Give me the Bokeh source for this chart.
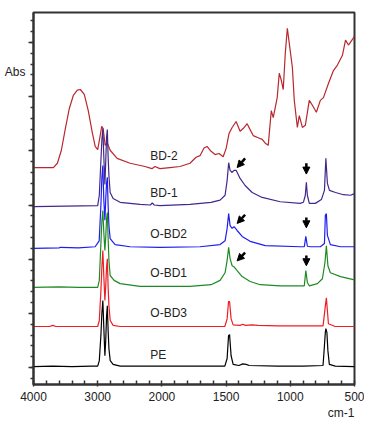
import numpy as np
from bokeh.plotting import figure
from bokeh.models import (Range1d, FixedTicker, Arrow, NormalHead, LinearAxis,
                          ColumnDataSource, Title)
from bokeh.core.properties import value
from bokeh.embed import file_html
from bokeh.resources import INLINE

# ---------------- data (wavenumber in cm-1, stacked absorbance) ----------------
pe_wn = [4000, 3700, 3400, 3100, 3000, 2975, 2950, 2935, 2920, 2905, 2888, 2875, 2862, 2850,
         2838, 2825, 2805, 2760, 2650, 2300, 2000, 1700, 1510, 1492, 1481, 1473, 1461, 1445,
         1400, 1370, 1344, 1320, 1100, 900, 745, 734, 727, 723, 715, 707, 696, 650, 500]
pe_abs = [0.02, 0.03, 0.02, 0.03, 0.03, 0.13, 0.60, 1.00, 1.24, 0.75, 0.22, 0.50, 0.95, 1.14,
          0.70, 0.35, 0.13, 0.06, 0.03, 0.03, 0.03, 0.03, 0.03, 0.17, 0.59, 0.61, 0.22, 0.06,
          0.04, 0.07, 0.06, 0.04, 0.03, 0.03, 0.04, 0.41, 0.66, 0.72, 0.65, 0.31, 0.06, 0.03, 0.02]

obd3_wn = [4000, 3750, 3700, 3650, 3300, 3000, 2975, 2950, 2935, 2920, 2905, 2888, 2875, 2862,
           2850, 2838, 2825, 2805, 2760, 2650, 2000, 1510, 1492, 1481, 1473, 1461, 1445, 1391,
           1370, 1350, 1300, 1250, 1100, 745, 727, 719, 711, 703, 650, 500]
obd3_abs = [0.76, 0.76, 0.78, 0.76, 0.76, 0.76, 0.87, 1.42, 1.85, 2.16, 1.70, 1.24, 1.50, 1.85,
            2.01, 1.50, 1.14, 0.87, 0.78, 0.76, 0.76, 0.76, 0.90, 1.22, 1.22, 0.90, 0.79, 0.78,
            0.80, 0.78, 0.79, 0.78, 0.77, 0.77, 1.14, 1.29, 1.05, 0.81, 0.76, 0.76]

obd1_wn = [4000, 3600, 3300, 3000, 2975, 2950, 2935, 2920, 2905, 2888, 2875, 2862, 2850, 2838,
           2825, 2806, 2744, 2651, 2341, 2031, 1781, 1617, 1547, 1508, 1492, 1480, 1469, 1453,
           1438, 1414, 1375, 1313, 1234, 1078, 922, 891, 879, 867, 852, 789, 750, 730, 719,
           707, 688, 609, 500]
obd1_abs = [1.48, 1.49, 1.48, 1.48, 1.61, 2.30, 2.70, 2.90, 2.50, 2.16, 2.40, 2.75, 2.86, 2.40,
            1.98, 1.70, 1.61, 1.55, 1.50, 1.50, 1.50, 1.53, 1.61, 1.75, 1.98, 2.22, 2.01, 1.88,
            1.86, 1.79, 1.68, 1.59, 1.53, 1.51, 1.51, 1.51, 1.79, 1.57, 1.51, 1.55, 1.64, 1.94,
            2.25, 1.88, 1.75, 1.68, 1.62]

obd2_wn = [4000, 3600, 3580, 3300, 3040, 2977, 2950, 2935, 2920, 2905, 2888, 2875, 2862, 2850,
           2838, 2825, 2806, 2729, 2496, 2031, 1703, 1547, 1508, 1492, 1480, 1469, 1453, 1438,
           1414, 1375, 1313, 1195, 922, 891, 879, 867, 844, 766, 734, 727, 719, 711, 688, 609, 500]
obd2_abs = [2.20, 2.21, 2.22, 2.21, 2.23, 2.34, 3.00, 3.50, 3.73, 3.10, 2.72, 3.10, 3.40, 3.51,
            3.00, 2.62, 2.38, 2.27, 2.23, 2.22, 2.23, 2.27, 2.34, 2.57, 2.84, 2.62, 2.57, 2.60,
            2.53, 2.42, 2.33, 2.25, 2.23, 2.23, 2.42, 2.24, 2.23, 2.23, 2.29, 2.81, 2.84, 2.44,
            2.27, 2.23, 2.23]

bd1_wn = [4000, 3500, 3000, 2975, 2950, 2935, 2920, 2905, 2888, 2875, 2862, 2850, 2838, 2825,
          2806, 2760, 2651, 2341, 2180, 2150, 2120, 2031, 1781, 1617, 1547, 1508, 1492, 1480,
          1469, 1453, 1438, 1422, 1391, 1352, 1297, 1219, 1078, 922, 898, 883, 875, 867, 852,
          805, 758, 734, 723, 711, 695, 648, 586, 531, 500]
bd1_abs = [2.97, 2.98, 2.99, 3.18, 3.82, 4.20, 4.41, 3.90, 3.38, 3.80, 4.25, 4.39, 3.90, 3.54,
           3.23, 3.12, 3.05, 3.01, 3.00, 3.04, 3.00, 2.99, 3.01, 3.05, 3.09, 3.18, 3.45, 3.78,
           3.64, 3.60, 3.64, 3.64, 3.49, 3.36, 3.23, 3.14, 3.06, 3.03, 3.05, 3.18, 3.42, 3.18,
           3.03, 3.03, 3.10, 3.27, 3.86, 3.40, 3.27, 3.23, 3.19, 3.18, 3.21]

bd2_wn = [4000, 3690, 3628, 3566, 3504, 3442, 3380, 3318, 3271, 3209, 3147, 3085, 3039, 3000,
          2961, 2938, 2915, 2884, 2853, 2806, 2698, 2496, 2264, 2155, 2109, 2031, 1938, 1859,
          1781, 1734, 1703, 1672, 1648, 1617, 1586, 1555, 1523, 1500, 1477, 1453, 1422, 1391,
          1367, 1336, 1313, 1289, 1250, 1219, 1195, 1172, 1148, 1133, 1117, 1102, 1086, 1070,
          1055, 1039, 1023, 1008, 984, 969, 945, 930, 906, 883, 852, 828, 797, 766, 742, 703,
          664, 633, 594, 570, 547, 500]
bd2_abs = [3.69, 3.69, 3.77, 4.01, 4.41, 4.78, 5.02, 5.12, 5.13, 5.04, 4.74, 4.34, 4.08, 4.02,
           4.28, 4.45, 4.41, 4.10, 4.15, 4.01, 3.86, 3.77, 3.71, 3.67, 3.71, 3.67, 3.69, 3.71,
           3.77, 3.88, 3.91, 4.05, 4.08, 3.99, 3.93, 3.95, 3.89, 4.04, 4.32, 4.43, 4.54, 4.36,
           4.41, 4.50, 4.39, 4.28, 4.24, 4.21, 4.14, 4.10, 4.74, 4.61, 4.80, 4.98, 5.43, 5.30,
           5.13, 5.80, 6.26, 5.98, 5.54, 4.93, 4.43, 4.65, 4.43, 4.47, 4.93, 4.84, 4.71, 4.93,
           4.98, 5.24, 5.48, 5.58, 5.76, 6.04, 5.95, 6.11]

series_names = ["BD-2", "BD-1", "O-BD2", "O-BD1", "O-BD3", "PE"]
series_colors = ["#B8282E", "#43288C", "#1E1EF0", "#1F8A24", "#EE1C24", "#000000"]
label_wn = [2180, 2180, 2180, 2180, 2180, 2180]
label_abs = [3.91, 3.23, 2.46, 1.74, 1.00, 0.24]

# arrows (tail -> head)
arrow_wn_start = [1352, 875, 1352, 875, 1352, 875]
arrow_abs_start = [3.86, 3.77, 2.82, 2.77, 2.12, 2.07]
arrow_wn_end = [1414, 875, 1414, 875, 1414, 875]
arrow_abs_end = [3.69, 3.57, 2.66, 2.58, 1.97, 1.88]

x_major = [4000, 3000, 2000, 1500, 1000, 500]
x_minor = [3800, 3600, 3400, 3200, 2800, 2600, 2400, 2200, 1900, 1800, 1700, 1600,
           1400, 1300, 1200, 1100, 900, 800, 700, 600]
y_major = [0, 1, 2, 3, 4, 5, 6]
y_label_pos = 5.45


def to_u(wn):
    """Broken FTIR axis: 4000-2000 region is drawn at half scale."""
    wn = np.asarray(wn, dtype=float)
    return np.where(wn > 2000, 2000 + (wn - 2000) / 2.0, wn)


FONT = "Liberation Sans"

p = figure(frame_width=321, frame_height=372, output_backend="svg", toolbar_location=None,
           x_range=Range1d(float(to_u(4000)), 500), y_range=Range1d(-0.31, 6.55),
           min_border_left=33, min_border_right=10, min_border_top=12, min_border_bottom=2,
           background_fill_color="white", border_fill_color="white")
p.xgrid.visible = False
p.ygrid.visible = False
p.outline_line_color = "#333333"
p.outline_line_width = 2

all_wn = [bd2_wn, bd1_wn, obd2_wn, obd1_wn, obd3_wn, pe_wn]
all_abs = [bd2_abs, bd1_abs, obd2_abs, obd1_abs, obd3_abs, pe_abs]
for wn, ab, col in zip(all_wn, all_abs, series_colors):
    assert len(wn) == len(ab)
    p.line(to_u(wn), ab, line_color=col, line_width=1.2)

p.text(x=to_u(label_wn), y=label_abs, text=series_names, text_font=value(FONT),
       text_font_size="12px", text_baseline="middle", text_align="left", text_color="#222222")

asrc = ColumnDataSource(dict(x0=to_u(arrow_wn_start), y0=arrow_abs_start,
                             x1=to_u(arrow_wn_end), y1=arrow_abs_end))
p.add_layout(Arrow(end=NormalHead(size=7, fill_color="black", line_color="black"),
                   x_start="x0", y_start="y0", x_end="x1", y_end="y1", source=asrc,
                   line_width=2.5, line_color="black"))

# x axis
xa = p.xaxis[0]
xa.ticker = FixedTicker(ticks=list(to_u(x_major)), minor_ticks=list(to_u(x_minor)))
xa.major_label_overrides = {float(u): str(w) for u, w in zip(to_u(x_major), x_major)}
xa.major_label_text_font = FONT
xa.major_label_text_font_size = "12px"
xa.major_label_text_color = "#222222"
xa.major_label_standoff = 5
xa.major_tick_in = 4
xa.major_tick_out = 2
xa.minor_tick_in = 4
xa.minor_tick_out = 0
xa.axis_line_width = 2
xa.axis_line_color = "#333333"
xa.major_tick_line_color = "#333333"
xa.minor_tick_line_color = "#333333"
xa.major_tick_line_width = 1.5
xa.minor_tick_line_width = 1.5

# y axis: ticks only
ya = p.yaxis[0]
ya.ticker = FixedTicker(ticks=y_major,
                        minor_ticks=[round(-0.2 + 0.2 * i, 2) for i in range(35)])
ya.major_label_overrides = {t: "" for t in y_major}
ya.major_label_standoff = 0
ya.major_tick_in = 0
ya.major_tick_out = 5
ya.minor_tick_in = 0
ya.minor_tick_out = 3
ya.axis_line_width = 2
ya.axis_line_color = "#333333"
ya.major_tick_line_color = "#333333"
ya.minor_tick_line_color = "#333333"
ya.major_tick_line_width = 1.5
ya.minor_tick_line_width = 1.5

# "Abs" placed as a tick label of a bare extra axis
abs_axis = LinearAxis(ticker=FixedTicker(ticks=[y_label_pos], minor_ticks=[]),
                      major_label_overrides={y_label_pos: "Abs"},
                      major_label_text_font=FONT, major_label_text_font_size="12px",
                      major_label_text_color="#222222", major_label_standoff=3,
                      axis_line_color=None, major_tick_line_color=None,
                      minor_tick_line_color=None, major_tick_out=0, major_tick_in=0)
p.add_layout(abs_axis, "left")

p.add_layout(Title(text="cm-1", align="right", text_font=FONT, text_font_size="12px",
                   text_font_style="normal", text_color="#222222", standoff=0), "below")

open("out.html", "w").write(file_html(p, INLINE))
